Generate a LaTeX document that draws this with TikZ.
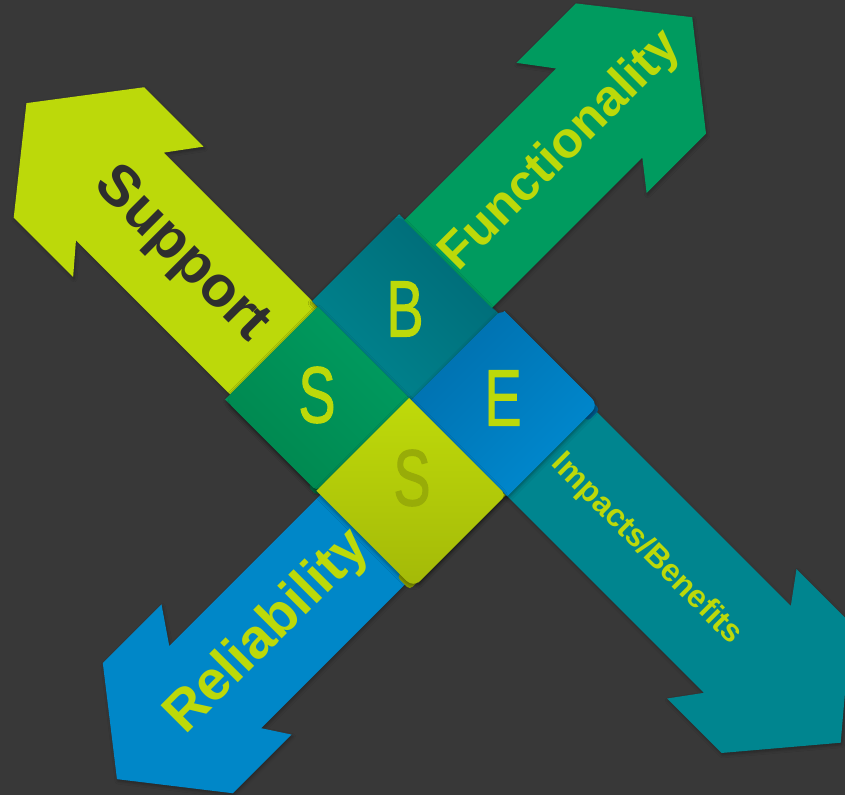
\documentclass[tikz,border=0pt]{standalone}
\usepackage{fontspec}
\setmainfont{Liberation Sans}
\newfontfamily\letterfont[FakeBold=1.5]{Liberation Sans}
\usetikzlibrary{shadows.blur}
\definecolor{bg}{HTML}{383838}
\definecolor{supc}{HTML}{BCD90A}
\definecolor{func}{HTML}{009B5F}
\definecolor{reli}{HTML}{0087C8}
\definecolor{impc}{HTML}{00858F}
\definecolor{supt}{HTML}{2E2E2E}
\definecolor{olive}{HTML}{98AC08}
\definecolor{curlE}{HTML}{005A8E}
\definecolor{curlY}{HTML}{8EA200}
\definecolor{curlG}{HTML}{006B40}
\definecolor{bA}{HTML}{006B77}
\definecolor{bB}{HTML}{00848F}
\definecolor{gA}{HTML}{009C60}
\definecolor{gB}{HTML}{00874F}
\definecolor{eA}{HTML}{0070AE}
\definecolor{eB}{HTML}{0089CF}
\definecolor{yA}{HTML}{BFDA0A}
\definecolor{yB}{HTML}{A4BA08}
\begin{document}
\begin{tikzpicture}[x=1bp,y=1bp,
  ribbon/.style={blur shadow={shadow xshift=1bp,shadow yshift=-2bp,shadow blur radius=3bp,shadow opacity=30}},
  sq/.style={blur shadow={shadow xshift=0bp,shadow yshift=-2bp,shadow blur radius=4bp,shadow opacity=40}},
  lbl/.style={font=\fontsize{#1}{#1}\selectfont\bfseries, inner sep=0pt},
  letter/.style={font=\letterfont\fontsize{80}{80}\selectfont, inner sep=0pt}]
\fill[bg] (0,0) rectangle (845,-795);
\useasboundingbox (0,0) rectangle (845,-795);
\begin{scope}[shift={(409,-398)}, rotate=-45]
  % ribbons / arrows
  \fill[supc, ribbon] (137,0) -- (-347,0) -- (-323,32.5) -- (-407,32.5) -- (-479,-62) -- (-407,-152) -- (-323,-152) -- (-347,-124) -- (137,-124) -- cycle;
  \fill[impc, ribbon] (-137,0) -- (417,0) -- (395,-30) -- (472,-30) -- (549,61.5) -- (472,153) -- (395,153) -- (417,123) -- (-137,123) -- cycle;
  \fill[func, ribbon] (-129,-131) -- (-129,337) -- (-161,313) -- (-161,397) -- (-69,469.5) -- (23,397) -- (23,313) -- (-5,335) -- (-5,-131) -- cycle;
  \fill[reli, ribbon] (6,129) -- (6,-345) -- (-29,-321) -- (-29,-404) -- (63,-476) -- (155,-404) -- (155,-321) -- (129,-338) -- (129,129) -- cycle;
  % curls
  \fill[curlE, rounded corners=4bp] (127,110) rectangle (143,127);
  \fill[curlY, rounded corners=4bp] (118,-135) rectangle (136,-121);
  \fill[curlG, rounded corners=4bp] (-9,-134) rectangle (4,-119);
  % squares
  \shade[sq, top color=bA, bottom color=bB, shading angle=-45]
    (3,0) -- (-137,0) -- (-137,114) arc[start angle=180,end angle=90,radius=8] -- (3,122) -- cycle;
  \shade[sq, top color=gA, bottom color=gB, shading angle=-45]
    (0,0) -- (-129,0) -- (-129,-122) arc[start angle=180,end angle=270,radius=9] -- (-4,-131) arc[start angle=270,end angle=360,radius=4] -- cycle;
  \shade[sq, top color=eA, bottom color=eB, shading angle=45]
    (3,0) -- (3,121) arc[start angle=180,end angle=90,radius=8] -- (130,129) arc[start angle=90,end angle=0,radius=9] -- (139,0) -- cycle;
  \shade[sq, top color=yA, bottom color=yB, shading angle=0]
    (0,0) -- (0,-131) -- (128,-131) arc[start angle=270,end angle=360,radius=9] -- (137,-5) arc[start angle=0,end angle=90,radius=5] -- cycle;
  % labels on arrows
  \node[lbl=58, text=supt, rotate=-45] (tsup) at (-262,-60) {Support};
  \node[lbl=51, text=supc, rotate=45] (tfun) at (-67,282) {Functionality};
  \node[lbl=56, text=supc, rotate=45] (trel) at (66,-265) {Reliability};
  \node[lbl=32, text=supc, rotate=-45] (timp) at (275,61) {Impacts/Benefits};
\end{scope}
% letters
\node[letter, text=supc] (lb) at (405,-309) {\scalebox{0.7}[1]{B}};
\node[letter, text=supc] (le) at (503,-398) {\scalebox{0.7}[1]{E}};
\node[letter, text=supc] (ls1) at (317,-395) {\scalebox{0.7}[1]{S}};
\node[letter, text=olive] (ls2) at (412,-478) {\scalebox{0.7}[1]{S}};
\end{tikzpicture}
\end{document}
